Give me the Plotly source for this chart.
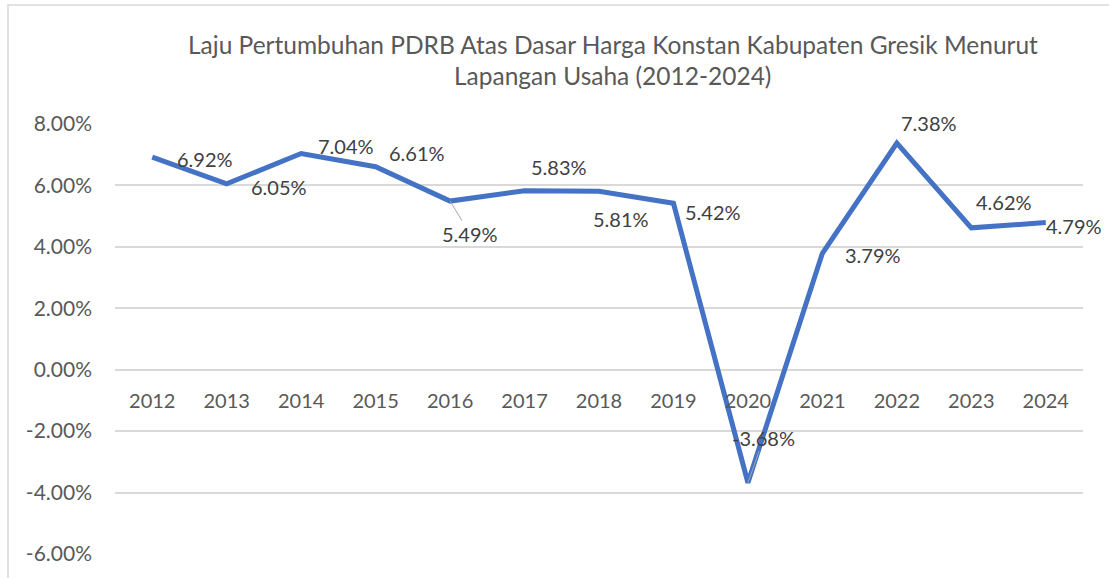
import plotly.graph_objects as go

years = ["2012", "2013", "2014", "2015", "2016", "2017", "2018", "2019",
         "2020", "2021", "2022", "2023", "2024"]
growth = [6.92, 6.05, 7.04, 6.61, 5.49, 5.83, 5.81, 5.42, -3.68, 3.79, 7.38, 4.62, 4.79]
labels = ["6.92%", "6.05%", "7.04%", "6.61%", "5.49%", "5.83%", "5.81%", "5.42%",
          "-3.68%", "3.79%", "7.38%", "4.62%", "4.79%"]
# label pixel offsets (dx, dy) relative to each point, dy positive = up
label_offsets = [(53, -2), (52, -3), (45, 7), (41, 14), (20, -33), (34, 24),
                 (22, -28), (40, -9), (16, 45), (51, -2), (32, 20), (33, 26), (28, -3)]
leader = [False, False, False, False, True, False, False, False, True,
          False, False, False, False]
y_ticks = [-6, -4, -2, 0, 2, 4, 6, 8]
y_tick_text = ["-6.00%", "-4.00%", "-2.00%", "0.00%", "2.00%", "4.00%", "6.00%", "8.00%"]

FONT = "Lato"

fig = go.Figure()
fig.add_trace(go.Scatter(
    x=years, y=growth, mode="lines",
    line=dict(color="#4472C4", width=5, shape="linear"),
    hoverinfo="skip", showlegend=False,
))

annotations = []
for i, (v, t, (dx, dy), ld) in enumerate(zip(growth, labels, label_offsets, leader)):
    if ld:
        annotations.append(dict(
            x=i, y=v, xref="x", yref="y", text=t, showarrow=True,
            arrowhead=0, arrowwidth=1, arrowcolor="#A6A6A6",
            ax=dx, ay=-dy, standoff=0,
            font=dict(family=FONT, size=20, color="#404040"),
        ))
    else:
        annotations.append(dict(
            x=i, y=v, xref="x", yref="y", text=t, showarrow=False,
            xshift=dx, yshift=dy,
            font=dict(family=FONT, size=20, color="#404040"),
        ))

annotations.append(dict(
    text="Laju Pertumbuhan PDRB Atas Dasar Harga Konstan Kabupaten Gresik Menurut",
    xref="paper", yref="paper", x=(612.5 - 115) / 968, y=(554 - 45) / 430,
    xanchor="center", yanchor="middle", showarrow=False,
    font=dict(family=FONT, size=24.5, color="#595959"),
))
annotations.append(dict(
    text="Lapangan Usaha (2012-2024)",
    xref="paper", yref="paper", x=(612.5 - 115) / 968, y=(554 - 76) / 430,
    xanchor="center", yanchor="middle", showarrow=False,
    font=dict(family=FONT, size=24.5, color="#595959"),
))

fig.update_layout(
    width=1109, height=578,
    margin=dict(l=115, r=26, t=124, b=24),
    paper_bgcolor="white", plot_bgcolor="white",
    annotations=annotations,
    shapes=[dict(type="rect", xref="paper", yref="paper",
                 x0=(8 - 115) / 968, x1=1.2, y0=-0.3, y1=(554 - 5) / 430,
                 line=dict(color="#D9D9D9", width=1.5), fillcolor="rgba(0,0,0,0)",
                 layer="below")],
    xaxis=dict(
        type="category", range=[-0.5, 12.5], anchor="free",
        position=6 / 14, showgrid=False, showline=False, zeroline=False,
        ticks="", ticklabelstandoff=17,
        tickfont=dict(family=FONT, size=20, color="#595959"),
    ),
    yaxis=dict(
        range=[-6, 8], tickvals=y_ticks, ticktext=y_tick_text,
        showgrid=True, gridcolor="#D9D9D9", gridwidth=1.5,
        zeroline=True, zerolinecolor="#D9D9D9", zerolinewidth=1.5,
        showline=False, ticks="", ticklabelstandoff=22,
        tickfont=dict(family=FONT, size=21, color="#595959"),
    ),
)

fig.write_html("out.html")
